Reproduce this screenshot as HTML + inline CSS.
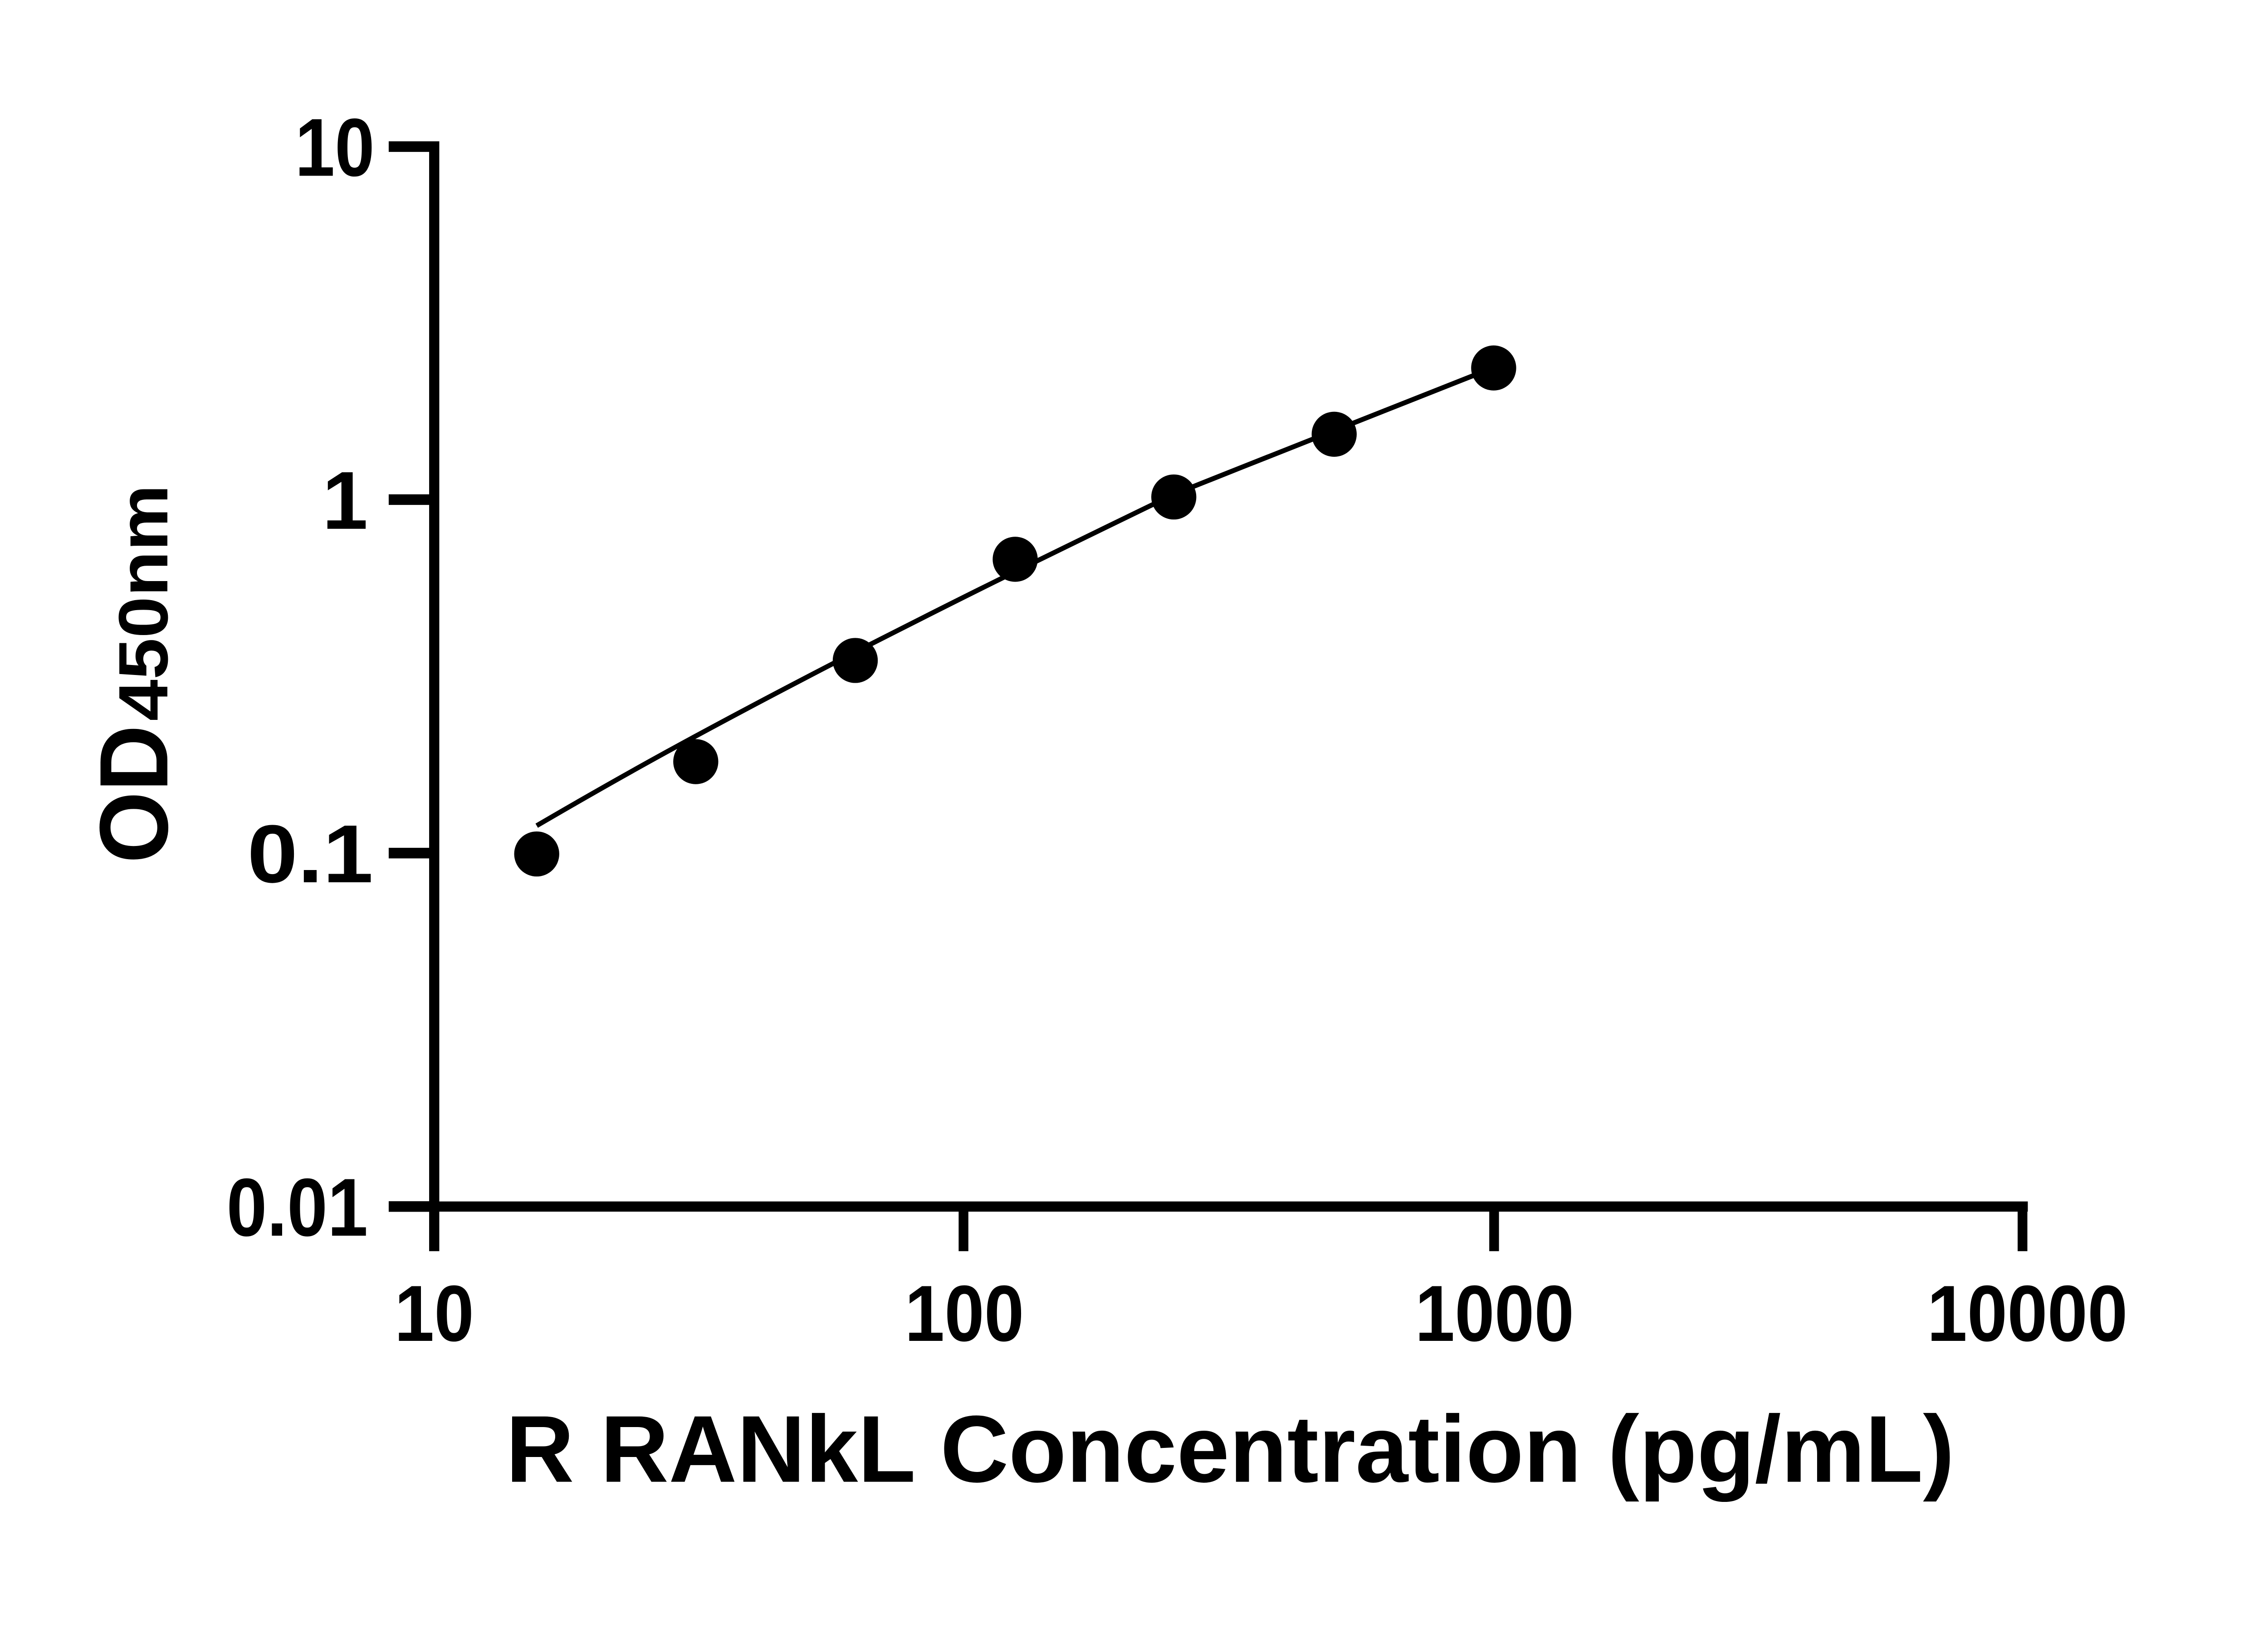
<!DOCTYPE html>
<html><head><meta charset="utf-8"><style>
html,body{margin:0;padding:0;background:#fff;}
svg{display:block;}
text{font-family:"Liberation Sans",sans-serif;font-weight:bold;fill:#000;}
</style></head><body>
<svg width="5142" height="3600" viewBox="0 0 5142 3600" xmlns="http://www.w3.org/2000/svg">
<g transform="translate(-7,-5) scale(0.974)">
<g stroke="#000" fill="none" stroke-linecap="butt">
<line x1="990" y1="325" x2="990" y2="2837" stroke-width="23"/>
<line x1="978" y1="2736" x2="4597" y2="2736" stroke-width="23"/>
<line x1="887" y1="337" x2="990" y2="337" stroke-width="24"/>
<line x1="887" y1="1136" x2="990" y2="1136" stroke-width="24"/>
<line x1="887" y1="1936" x2="990" y2="1936" stroke-width="24"/>
<line x1="887" y1="2736" x2="990" y2="2736" stroke-width="24"/>
<line x1="2188" y1="2736" x2="2188" y2="2837" stroke-width="22"/>
<line x1="3389" y1="2736" x2="3389" y2="2837" stroke-width="22"/>
<line x1="4585" y1="2736" x2="4585" y2="2837" stroke-width="22"/>
<path d="M1222,1874 C1400,1770 1580,1668 1943,1481 C2180,1360 2305,1298 2664,1124 C2900,1030 3150,930 3350,852" stroke-width="11"/>
</g>
<g fill="#000">
<circle cx="1222" cy="1938" r="51"/>
<circle cx="1582" cy="1729" r="51"/>
<circle cx="1943" cy="1500" r="51"/>
<circle cx="2305" cy="1271" r="51"/>
<circle cx="2664" cy="1130" r="51"/>
<circle cx="3027" cy="988" r="51"/>
<circle cx="3388" cy="838" r="51"/>
</g>
<g font-size="186" text-anchor="end">
<text x="855" y="403" textLength="180" lengthAdjust="spacingAndGlyphs">10</text>
<text x="840" y="1202">1</text>
<text x="852" y="2002" textLength="285" lengthAdjust="spacingAndGlyphs">0.1</text>
<text x="840" y="2802" textLength="320" lengthAdjust="spacingAndGlyphs">0.01</text>
</g>
<g font-size="180" text-anchor="middle">
<text x="990" y="3040" textLength="180" lengthAdjust="spacingAndGlyphs">10</text>
<text x="2190" y="3040" textLength="270" lengthAdjust="spacingAndGlyphs">100</text>
<text x="3390" y="3040" textLength="360" lengthAdjust="spacingAndGlyphs">1000</text>
<text x="4596" y="3040" textLength="454" lengthAdjust="spacingAndGlyphs">10000</text>
</g>
<text x="1152" y="3359" font-size="215" textLength="3279" lengthAdjust="spacingAndGlyphs">R RANkL Concentration (pg/mL)</text>
<g transform="translate(386,1959) rotate(-90)">
<text x="0" y="0" font-size="220" textLength="313" lengthAdjust="spacingAndGlyphs">OD</text>
<text x="322" y="0" font-size="158" textLength="535" lengthAdjust="spacingAndGlyphs">450nm</text>
</g>
</g>
</svg>
</body></html>
